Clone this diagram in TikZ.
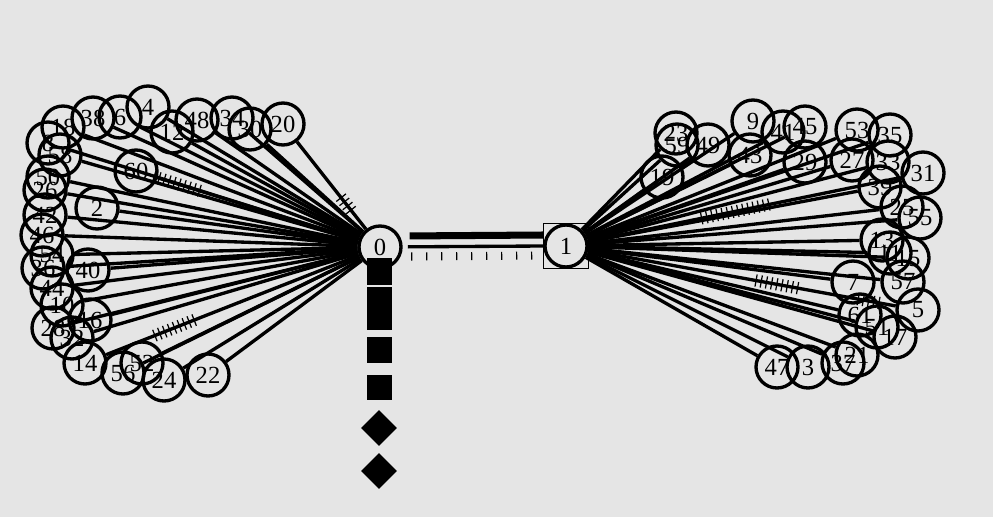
\documentclass[tikz,border=0pt]{standalone}
\usepackage{fontspec}
\setmainfont{Liberation Serif}
\usepackage{tikz}
\usetikzlibrary{shapes.geometric,decorations.pathreplacing,calc,positioning}
\definecolor{paneGray}{HTML}{E5E5E5}

\begin{document}
\begin{tikzpicture}[
    x=0.02cm, y=-0.02cm,
    font=\fontsize{14}{15}\selectfont,
    vertex/.style={draw, circle, line width=1.9pt, minimum size=0.84cm, inner sep=0pt},
    link/.style={line width=1.9pt},
    heavy/.style={line width=4pt},
    tickmarks/.style={decorate, decoration={ticks, segment length=3pt, amplitude=3.5pt}, line width=0.7pt},
    block/.style={fill=black, minimum width=0.5cm, inner sep=0pt},
    gem/.style={diamond, fill=black, minimum size=0.72cm, inner sep=0pt}
]
    \fill[paneGray] (0,0) rectangle (993,517);
    \useasboundingbox (0,0) rectangle (993,517);

    % hubs
    \node[vertex] (n0) at (380,247) {0};
    \node[vertex] (n1) at (566,246) {1};
    \node[draw, line width=0.6pt, minimum size=0.9cm, inner sep=0pt] (box1) at (n1) {};

    % left fan
    \foreach \lbl/\x/\y in {20/283/124, 30/250/129, 34/232/118, 48/197/120,
        12/172/132, 4/148/107, 6/120/117, 38/93/118, 18/63/127, 8/48/143,
        58/60/155, 50/48/177, 26/45/190, 60/136/171, 2/97/208, 42/45/215,
        46/42/235, 54/52/255, 36/43/268, 40/88/270, 44/52/288, 10/62/305,
        16/90/320, 28/53/328, 32/72/338, 14/85/363, 56/123/373, 52/142/363,
        24/164/380, 22/208/375}
        \node[vertex] (n\lbl) at (\x,\y) {\lbl};

    % right fan
    \foreach \lbl/\x/\y in {59/677/145, 23/676/133, 49/708/145, 19/662/177,
        9/753/121, 43/750/155, 41/783/132, 45/805/127, 29/805/162, 53/857/130,
        27/852/160, 35/890/135, 33/888/162, 31/923/173, 39/880/187, 25/902/207,
        55/920/218, 13/882/240, 11/890/253, 15/908/258, 57/903/282, 7/853/282,
        5/918/310, 61/860/315, 51/877/327, 17/895/337, 21/857/355, 37/843/363,
        3/808/367, 47/777/367}
        \node[vertex] (n\lbl) at (\x,\y) {\lbl};

    \foreach \lbl in {2,4,...,60}
        \draw[link] (n0) -- (n\lbl);
    \foreach \lbl in {3,5,...,61}
        \draw[link] (n1) -- (n\lbl);

    % link between hubs
    \draw[heavy, shorten <=4pt] ([yshift=0.22cm]n0.east) -- ([yshift=0.22cm]box1.west);
    \draw[link, shorten <=3pt] (n0) -- (box1.west);
    \draw[tickmarks, decoration={segment length=0.3cm, amplitude=2.3pt}]
        ([xshift=0.18cm, yshift=-0.19cm]n0.east) -- ([yshift=-0.19cm]box1.west);

    % ticked stretches
    \draw[tickmarks] ($(n0)!0.3!(n20)$) -- ($(n0)!0.42!(n20)$);
    \draw[tickmarks] ($(n0)!0.74!(n60)$) -- ($(n0)!0.93!(n60)$);
    \draw[tickmarks] ($(n0)!0.63!(n14)$) -- ($(n0)!0.77!(n14)$);
    \draw[tickmarks] ($(n1)!0.38!(n31)$) -- ($(n1)!0.58!(n31)$);
    \draw[tickmarks] ($(n1)!0.54!(n5)$) -- ($(n1)!0.67!(n5)$);
    \draw[tickmarks] ($(n1)!0.83!(n5)$) -- ($(n1)!0.9!(n5)$);

    % marks under hub 0
    \node[block, minimum height=0.54cm] (b1) at (379.5,271.5) {};
    \node[block, minimum height=0.86cm] (b2) at (379.5,308.5) {};
    \node[block, minimum height=0.52cm] (b3) at (379.5,350) {};
    \node[block, minimum height=0.5cm] (b4) at (379.5,387.5) {};
    \node[gem] (d1) at (379,428) {};
    \node[gem] (d2) at (379,471) {};
\end{tikzpicture}
\end{document}
